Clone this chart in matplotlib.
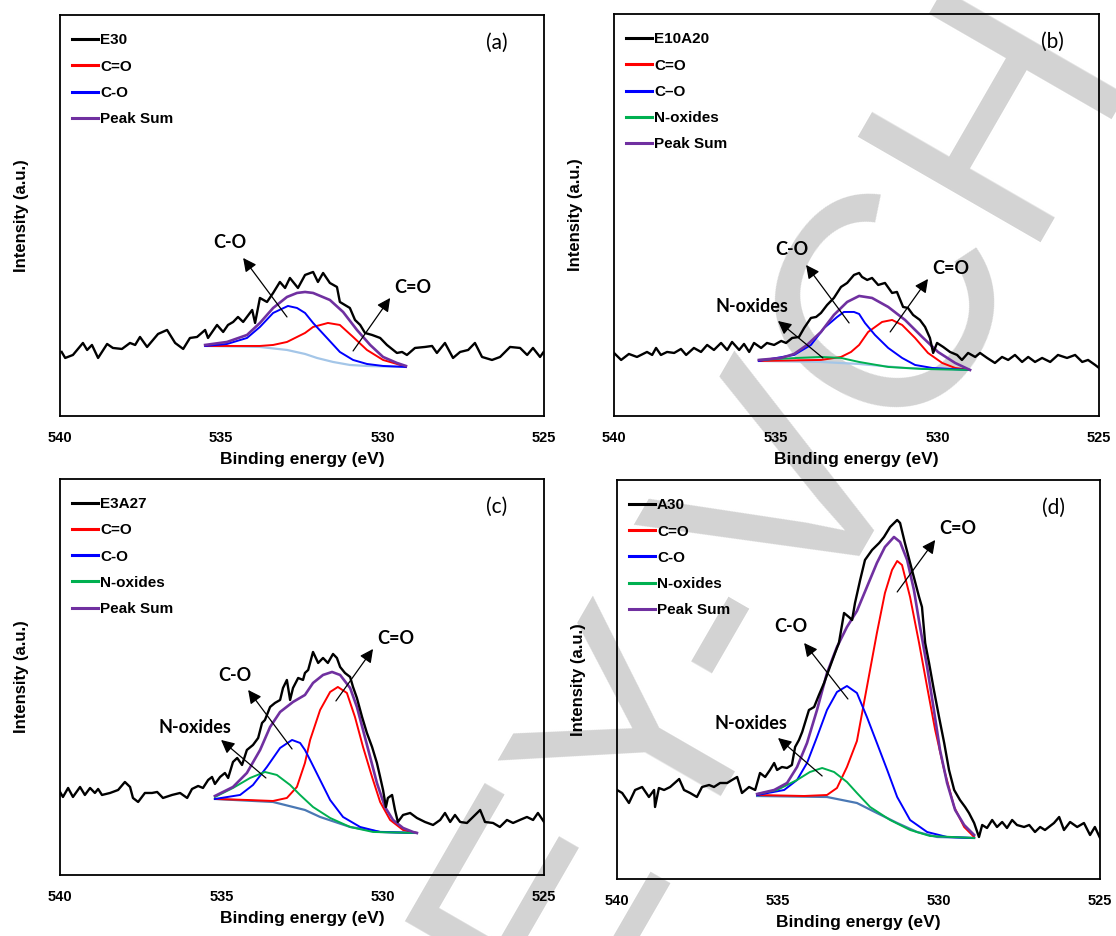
import numpy as np
import matplotlib
matplotlib.use('Agg')
import matplotlib.pyplot as plt
from matplotlib.lines import Line2D

plt.rcParams['font.family'] = ['Liberation Sans', 'DejaVu Sans']
plt.rcParams['font.weight'] = 'bold'
plt.rcParams['axes.labelweight'] = 'bold'

# ---------------- (a) E30 ----------------
a_be = [539.95, 539.84, 539.60, 539.29, 539.16, 539.01, 538.82, 538.54, 538.36, 538.08,
        537.83, 537.67, 537.52, 537.30, 536.96, 536.68, 536.43, 536.18, 535.97, 535.75,
        535.50, 535.41, 535.13, 534.94, 534.79, 534.63, 534.48, 534.32, 534.04, 533.95,
        533.80, 533.58, 533.39, 533.18, 533.02, 532.87, 532.62, 532.40, 532.15, 532.00,
        531.84, 531.63, 531.41, 531.32, 531.01, 530.85, 530.69, 530.54, 530.32, 530.07,
        529.86, 529.55, 529.39, 529.24, 528.99, 528.68, 528.46, 528.31, 528.06, 527.81,
        527.59, 527.34, 527.13, 526.91, 526.60, 526.35, 526.04, 525.73, 525.51, 525.33,
        525.11, 525.00]
a_raw = [64, 58, 61, 73, 66, 71, 58, 72, 68, 67,
         73, 71, 79, 69, 82, 86, 73, 67, 78, 79,
         86, 78, 91, 84, 91, 94, 99, 94, 106, 93,
         118, 114, 123, 134, 128, 138, 128, 141, 144, 134,
         143, 133, 129, 114, 108, 96, 91, 83, 81, 78,
         71, 63, 64, 61, 68, 69, 70, 63, 73, 58,
         64, 66, 73, 59, 56, 59, 69, 68, 61, 68,
         59, 64]
a_sum_be = [535.50, 534.82, 534.20, 533.80, 533.39, 532.96, 532.65, 532.40, 532.15, 531.63,
            531.22, 530.79, 530.38, 529.98, 529.55, 529.27]
a_sum = [71, 74, 81, 93, 108, 119, 123, 124, 123, 116, 104, 86, 71, 59, 53, 50]
a_cdo_be = [535.50, 533.80, 533.39, 532.96, 532.40, 532.15, 531.69, 531.32, 530.91, 530.48,
            529.98, 529.55, 529.27]
a_cdo = [70, 70, 71, 74, 83, 89, 93, 91, 79, 66, 56, 52, 49]
a_cso_be = [535.50, 534.82, 534.20, 533.80, 533.39, 532.93, 532.65, 532.40, 532.15, 531.72,
            531.32, 530.91, 530.48, 529.98, 529.27]
a_cso = [70, 72, 78, 89, 103, 110, 108, 103, 93, 78, 64, 56, 52, 50, 49]
a_bg_be = [535.50, 533.80, 532.96, 532.40, 532.03, 531.53, 531.01, 530.48, 529.27]
a_bg = [70, 69, 66, 62, 58, 54, 51, 50, 49]

# ---------------- (b) E10A20 ----------------
b_be = [540.00, 539.78, 539.54, 539.29, 538.98, 538.82, 538.70, 538.55, 538.36, 538.14,
        537.93, 537.77, 537.53, 537.31, 537.12, 536.91, 536.69, 536.50, 536.35, 536.13,
        535.98, 535.82, 535.67, 535.45, 535.27, 535.05, 534.83, 534.68, 534.49, 534.28,
        534.12, 533.91, 533.75, 533.60, 533.41, 533.20, 532.98, 532.79, 532.58, 532.42,
        532.33, 532.17, 532.02, 531.83, 531.62, 531.40, 531.25, 531.06, 530.91, 530.75,
        530.54, 530.38, 530.23, 530.13, 530.01, 529.82, 529.61, 529.39, 529.24, 529.05,
        528.83, 528.68, 528.46, 528.22, 528.00, 527.81, 527.60, 527.38, 527.19, 526.98,
        526.76, 526.51, 526.27, 525.99, 525.74, 525.52, 525.34, 525.12, 525.00]
b_raw = [63, 56, 62, 59, 64, 61, 68, 61, 64, 63,
         67, 61, 68, 64, 71, 66, 73, 66, 74, 66,
         72, 64, 73, 68, 73, 71, 75, 73, 78, 79,
         88, 98, 99, 103, 111, 118, 129, 133, 141, 143,
         139, 136, 138, 131, 133, 123, 124, 109, 108, 101,
         96, 89, 78, 63, 73, 69, 64, 61, 56, 63,
         59, 63, 58, 53, 59, 56, 61, 54, 59, 54,
         58, 54, 61, 58, 61, 54, 56, 51, 48]
b_sum_be = [535.52, 534.83, 534.43, 534.03, 533.60, 533.20, 532.79, 532.42, 532.02, 531.52,
            531.00, 530.47, 529.98, 529.45, 528.99]
b_sum = [56, 58, 62, 71, 84, 101, 114, 120, 118, 109, 96, 79, 64, 53, 46]
b_cdo_be = [535.52, 533.60, 532.98, 532.67, 532.42, 532.14, 531.71, 531.40, 531.09, 530.69,
            530.29, 529.85, 529.45, 528.99]
b_cdo = [55, 56, 59, 64, 71, 84, 94, 96, 91, 78, 63, 53, 48, 46]
b_cso_be = [535.52, 534.43, 533.91, 533.50, 533.10, 532.89, 532.58, 532.42, 532.24, 531.93,
            531.52, 531.09, 530.69, 530.16, 528.99]
b_cso = [55, 61, 71, 88, 99, 104, 104, 102, 93, 81, 68, 58, 51, 48, 46]
b_nox_be = [535.52, 534.34, 533.60, 532.98, 532.42, 531.52, 530.47, 528.99]
b_nox = [56, 58, 59, 58, 54, 49, 47, 46]
b_bg_be = [535.52, 533.60, 532.42, 531.00, 528.99]
b_bg = [55, 54, 52, 48, 46]

# ---------------- (c) E3A27 ----------------
c_be = [540.00, 539.91, 539.75, 539.60, 539.38, 539.23, 539.07, 538.92, 538.82, 538.70,
        538.45, 538.20, 537.99, 537.83, 537.74, 537.58, 537.37, 537.15, 536.99, 536.81,
        536.53, 536.28, 536.06, 535.91, 535.72, 535.57, 535.41, 535.29, 535.20, 535.04,
        534.89, 534.79, 534.64, 534.51, 534.36, 534.21, 534.02, 533.86, 533.74, 533.65,
        533.49, 533.34, 533.18, 533.09, 532.97, 532.87, 532.78, 532.62, 532.47, 532.41,
        532.31, 532.16, 532.00, 531.85, 531.70, 531.54, 531.42, 531.32, 531.17, 531.01,
        530.92, 530.80, 530.64, 530.49, 530.33, 530.18, 530.08, 529.99, 529.90, 529.84,
        529.71, 529.62, 529.53, 529.37, 529.15, 528.94, 528.69, 528.44, 528.22, 528.07,
        527.91, 527.76, 527.60, 527.39, 527.20, 526.98, 526.83, 526.58, 526.37, 526.15,
        525.96, 525.75, 525.53, 525.34, 525.19, 525.00]
c_raw = [83, 78, 87, 78, 88, 80, 87, 82, 86, 80,
         82, 85, 93, 88, 77, 73, 82, 82, 83, 77,
         80, 82, 77, 86, 89, 87, 95, 98, 91, 98,
         102, 97, 113, 117, 110, 125, 130, 137, 152, 155,
         168, 172, 175, 187, 195, 175, 187, 197, 195, 202,
         205, 223, 212, 217, 212, 221, 217, 208, 202, 198,
         188, 177, 158, 142, 128, 112, 98, 85, 68, 77,
         80, 65, 53, 60, 62, 57, 53, 50, 55, 62,
         53, 60, 53, 52, 58, 65, 53, 52, 48, 55,
         52, 55, 58, 55, 62, 53]
c_sum_be = [535.20, 534.64, 534.21, 533.80, 533.49, 533.18, 532.78, 532.41, 532.16, 531.85,
            531.57, 531.32, 531.01, 530.80, 530.61, 530.39, 530.18, 529.93, 529.68, 529.37,
            529.06, 528.94]
c_sum = [79, 88, 102, 125, 148, 163, 173, 180, 192, 200,
         203, 200, 187, 168, 145, 118, 92, 68, 55, 47,
         43, 42]
c_cdo_be = [535.20, 534.21, 533.40, 532.97, 532.66, 532.41, 532.25, 531.94, 531.63, 531.39,
            531.11, 530.86, 530.61, 530.33, 530.08, 529.77, 529.37, 528.94]
c_cdo = [76, 75, 74, 77, 88, 112, 135, 165, 183, 188,
         182, 158, 128, 98, 73, 55, 45, 42]
c_cso_be = [535.20, 534.42, 534.02, 533.59, 533.18, 532.81, 532.56, 532.41, 532.25, 531.94,
            531.63, 531.23, 530.70, 530.08, 528.94]
c_cso = [76, 80, 90, 108, 127, 135, 132, 125, 115, 95, 75, 58, 48, 43, 42]
c_nox_be = [535.20, 534.64, 534.11, 533.65, 533.28, 532.87, 532.56, 532.16, 531.63, 531.01,
            530.30, 528.94]
c_nox = [78, 87, 97, 103, 100, 90, 80, 68, 57, 48, 43, 42]
c_bg_be = [535.20, 533.40, 532.41, 531.94, 531.01, 530.08, 528.94]
c_bg = [76, 73, 65, 58, 48, 43, 42]

# ---------------- (d) A30 ----------------
d_be = [540.00, 539.84, 539.63, 539.44, 539.22, 539.01, 538.85, 538.82, 538.70, 538.54,
        538.35, 538.07, 537.92, 537.73, 537.52, 537.36, 537.14, 536.99, 536.80, 536.58,
        536.43, 536.27, 536.12, 535.90, 535.71, 535.56, 535.40, 535.25, 535.12, 535.03,
        534.88, 534.72, 534.57, 534.47, 534.35, 534.25, 534.04, 533.88, 533.73, 533.57,
        533.39, 533.23, 533.11, 532.95, 532.80, 532.70, 532.61, 532.45, 532.30, 532.08,
        531.86, 531.71, 531.52, 531.30, 531.21, 531.06, 530.84, 530.62, 530.53, 530.43,
        530.31, 530.16, 530.00, 529.84, 529.69, 529.53, 529.35, 529.19, 529.07, 528.91,
        528.76, 528.66, 528.51, 528.35, 528.20, 528.04, 527.89, 527.73, 527.58, 527.36,
        527.20, 527.02, 526.86, 526.71, 526.43, 526.27, 526.12, 525.93, 525.71, 525.50,
        525.31, 525.16, 525.00]
d_raw = [89, 86, 76, 89, 92, 82, 89, 72, 91, 89,
         92, 100, 89, 86, 82, 92, 94, 92, 96, 96,
         99, 102, 86, 92, 89, 106, 102, 109, 116, 109,
         112, 111, 114, 132, 139, 147, 169, 172, 184, 196,
         212, 226, 236, 266, 262, 259, 276, 299, 319, 329,
         336, 342, 352, 359, 356, 336, 309, 282, 272, 236,
         216, 189, 162, 136, 109, 89, 79, 72, 66, 56,
         42, 54, 51, 59, 52, 57, 51, 59, 54, 52,
         54, 47, 52, 49, 56, 62, 49, 57, 52, 56,
         44, 52, 41]
d_sum_be = [535.65, 535.12, 534.72, 534.41, 534.10, 533.79, 533.48, 533.17, 532.86, 532.55,
            532.24, 531.93, 531.68, 531.40, 531.21, 530.99, 530.78, 530.59, 530.37, 530.16,
            529.97, 529.75, 529.50, 529.22, 528.91]
d_sum = [85, 89, 96, 112, 136, 169, 206, 232, 252, 268,
         292, 316, 332, 342, 337, 319, 289, 252, 212, 169,
         129, 96, 69, 54, 44]
d_cdo_be = [535.65, 534.19, 533.48, 533.17, 532.86, 532.55, 532.24, 531.93, 531.68, 531.46,
            531.30, 531.15, 530.90, 530.62, 530.37, 530.12, 529.84, 529.53, 529.22, 528.91]
d_cdo = [84, 83, 84, 91, 112, 138, 192, 246, 286, 309,
         318, 314, 282, 236, 192, 149, 109, 72, 52, 42]
d_cso_be = [535.65, 534.81, 534.41, 534.10, 533.79, 533.48, 533.17, 532.86, 532.55, 532.24,
            531.93, 531.61, 531.30, 530.90, 530.37, 529.75, 528.91]
d_cso = [84, 89, 99, 116, 142, 169, 187, 193, 186, 162, 136, 109, 82, 59, 47, 42, 41]
d_nox_be = [535.65, 535.03, 534.41, 534.01, 533.63, 533.26, 532.86, 532.55, 532.14, 531.52,
            530.90, 530.28, 528.91]
d_nox = [85, 89, 99, 107, 111, 107, 97, 86, 72, 59, 49, 43, 41]
d_bg_be = [535.65, 533.48, 532.55, 531.93, 531.30, 530.68, 530.06, 528.91]
d_bg = [83, 82, 76, 66, 56, 47, 42, 41]

red, blue, green, purple = '#ff0000', '#0000ff', '#00b050', '#7030a0'

fig = plt.figure(figsize=(11.16, 9.36), dpi=100)

# journal watermark behind everything
fig.text(0.585, 0.194, 'WILEY-VCH', rotation=60, fontsize=220, color='#d3d3d3',
         ha='center', va='center', fontweight='normal', zorder=-1)


def panel(rect, ytop, tag, name, raw_be, raw, bg, fits, bgcol, notes):
    ax = fig.add_axes(rect)
    ax.patch.set_alpha(0)
    ax.plot(bg[0], bg[1], color=bgcol, lw=1.6, zorder=2)
    handles = [Line2D([], [], color='k', lw=2.2, label=name)]
    for be, y, col, lab, lw in fits:
        ax.plot(be, y, color=col, lw=lw, zorder=3)
        handles.append(Line2D([], [], color=col, lw=2.2, label=lab))
    ax.plot(raw_be, raw, color='k', lw=1.7, zorder=4)

    for lab, txy, tail, head in notes:
        ax.annotate('', xy=head, xytext=tail,
                    arrowprops=dict(arrowstyle='-|>', color='k', lw=0.9,
                                    mutation_scale=20, shrinkA=0, shrinkB=0))
        ax.text(txy[0], txy[1], lab, ha='center', va='center', fontsize=13,
                family=['Lato', 'DejaVu Sans'], fontweight='bold')

    ax.text(0.903, 0.93, tag, transform=ax.transAxes, ha='center', va='center',
            fontsize=15, family=['Lato', 'DejaVu Sans'], fontweight='normal')

    ax.set_xlim(540, 525)
    ax.set_ylim(0, ytop)
    ax.set_xticks([540, 535, 530, 525])
    ax.set_yticks([])
    ax.tick_params(axis='x', length=0, pad=11, labelsize=10.5)
    for lbl in ax.get_xticklabels():
        lbl.set_fontweight('bold')
    for s in ax.spines.values():
        s.set_linewidth(1.3)
    ax.set_xlabel('Binding energy (eV)', fontsize=12.5, fontweight='bold', labelpad=5)
    ax.set_ylabel('Intensity (a.u.)', fontsize=12, fontweight='bold', labelpad=22)
    ax.legend(handles=handles, loc='upper left', bbox_to_anchor=(0.024, 0.954),
              frameon=False, fontsize=11, handlelength=1.7, handletextpad=0.15,
              labelspacing=0.8, borderaxespad=0, borderpad=0)
    return ax


panel([0.0538, 0.5556, 0.4333, 0.4284], 401, '(a)', 'E30', a_be, a_raw, (a_bg_be, a_bg),
      [(a_cdo_be, a_cdo, red, 'C=O', 1.4),
       (a_cso_be, a_cso, blue, 'C-O', 1.4),
       (a_sum_be, a_sum, purple, 'Peak Sum', 1.9)],
      '#a4c6e8',
      [('C-O', (534.73, 173), (532.96, 99), (534.32, 158)),
       ('C=O', (529.05, 128), (530.91, 65), (529.76, 118))])

panel([0.5502, 0.5556, 0.4346, 0.4295], 402, '(b)', 'E10A20', b_be, b_raw, (b_bg_be, b_bg),
      [(b_cdo_be, b_cdo, red, 'C=O', 1.4),
       (b_cso_be, b_cso, blue, 'C\u2013O', 1.4),
       (b_nox_be, b_nox, green, 'N-oxides', 1.4),
       (b_sum_be, b_sum, purple, 'Peak Sum', 1.9)],
      '#a4c6e8',
      [('C-O', (534.49, 166), (532.73, 93), (534.06, 151)),
       ('C=O', (529.58, 147), (531.46, 84), (530.29, 137)),
       ('N-oxides', (535.73, 109), (533.54, 58), (534.93, 95))])

panel([0.0538, 0.0652, 0.4337, 0.4231], 396, '(c)', 'E3A27', c_be, c_raw, (c_bg_be, c_bg),
      [(c_cdo_be, c_cdo, red, 'C=O', 1.4),
       (c_cso_be, c_cso, blue, 'C-O', 1.4),
       (c_nox_be, c_nox, green, 'N-oxides', 1.4),
       (c_sum_be, c_sum, purple, 'Peak Sum', 1.9)],
      '#4a78b4',
      [('C-O', (534.58, 199), (532.81, 126), (534.17, 185)),
       ('C=O', (529.59, 236), (531.45, 174), (530.30, 226)),
       ('N-oxides', (535.82, 147), (533.62, 97), (535.01, 135))])

panel([0.5529, 0.0609, 0.4328, 0.4263], 399, '(d)', 'A30', d_be, d_raw, (d_bg_be, d_bg),
      [(d_cdo_be, d_cdo, red, 'C=O', 1.4),
       (d_cso_be, d_cso, blue, 'C-O', 1.4),
       (d_nox_be, d_nox, green, 'N-oxides', 1.4),
       (d_sum_be, d_sum, purple, 'Peak Sum', 1.9)],
      '#4a78b4',
      [('C=O', (529.41, 350), (531.30, 287), (530.12, 339)),
       ('C-O', (534.60, 252), (532.83, 180), (534.19, 236)),
       ('N-oxides', (535.84, 155), (533.63, 103), (535.00, 141))])

fig.savefig('out.png', dpi=100)
